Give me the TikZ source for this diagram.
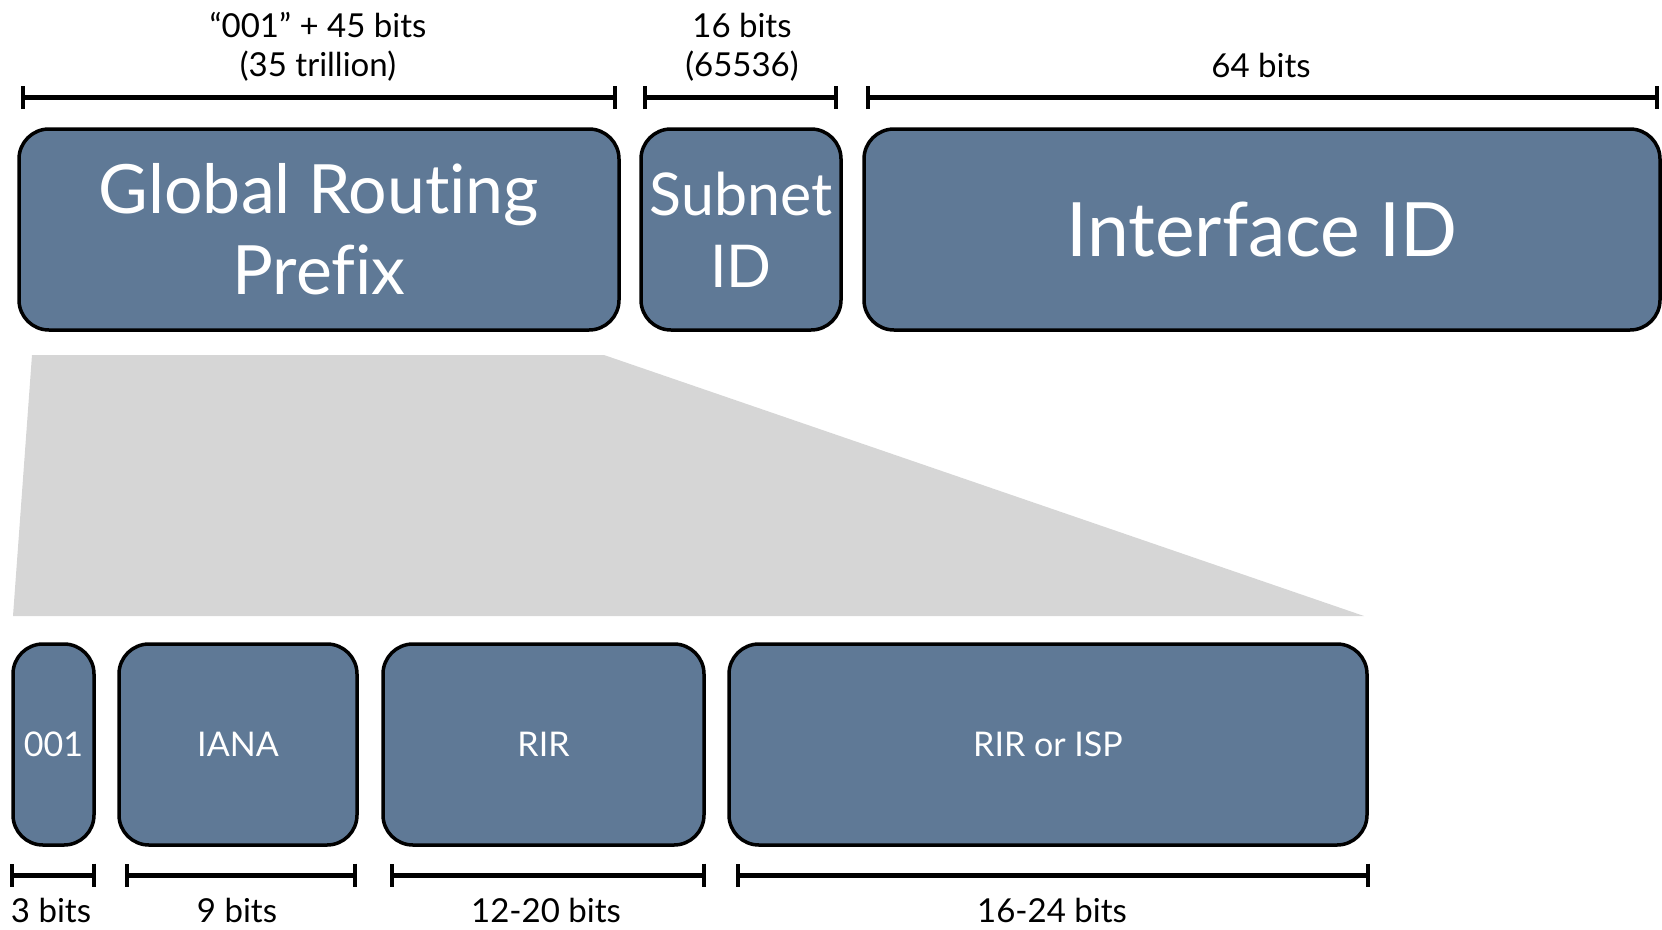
\documentclass[tikz,border=0pt]{standalone}
\usepackage{fontspec}
\setmainfont{Lato}[Ligatures=NoCommon]
\usetikzlibrary{arrows.meta}
\definecolor{boxblue}{RGB}{95,121,150}
\definecolor{fangrey}{RGB}{214,214,214}
\begin{document}
\begin{tikzpicture}[x=1pt,y=-1pt,
  field/.style={draw=black, line width=3.5pt, fill=boxblue, rounded corners=30pt,
    text=white, align=center, inner sep=0pt, minimum height=201pt},
  bigtext/.style={font=\fontsize{68}{81}\selectfont},
  smalltext/.style={font=\fontsize{34}{40}\selectfont},
  lbl/.style={font=\fontsize{33}{39}\selectfont, text=black, align=center, inner sep=0pt},
  span/.style={line width=5pt, {Bar[width=23pt,line width=4pt]}-{Bar[width=23pt,line width=4pt]}}
]
\useasboundingbox (0,0) rectangle (1662,929);
% fan
\fill[fangrey] (32,355) -- (604,355) -- (1364,616) -- (13,616) -- cycle;
% top fields
\node[field, bigtext, minimum width=600pt] (grp) at (319,229.5) {Global Routing\\Prefix};
\node[field, font=\fontsize{59}{72}\selectfont, minimum width=200pt] (sub) at (741,229.5) {Subnet\\ID};
\node[field, font=\fontsize{75}{81}\selectfont, minimum width=796pt] (iid) at (1262,229.5) {Interface ID};
% bottom fields
\node[field, smalltext, minimum width=81pt] (f001) at (53.5,744.5) {001};
\node[field, smalltext, minimum width=238pt] (iana) at (238,744.5) {IANA};
\node[field, smalltext, minimum width=321pt] (rir) at (543.5,744.5) {RIR};
\node[field, smalltext, minimum width=638pt] (isp) at (1048,744.5) {RIR or ISP};
% top spans
\coordinate (t1a) at (21,97.5);  \coordinate (t1b) at (617,97.5);
\coordinate (t2a) at (643,97.5); \coordinate (t2b) at (838,97.5);
\coordinate (t3a) at (866,97.5); \coordinate (t3b) at (1659,97.5);
\draw[span] (t1a) -- (t1b);
\draw[span] (t2a) -- (t2b);
\draw[span] (t3a) -- (t3b);
\node[lbl] (l1) at (318,47) {“001” + 45 bits\\(35 trillion)};
\node[lbl] (l2) at (742,47) {16 bits\\(65536)};
\node[lbl] (l3) at (1261,65) {64 bits};
% bottom spans
\coordinate (b1a) at (10,875);  \coordinate (b1b) at (96,875);
\coordinate (b2a) at (125,875); \coordinate (b2b) at (357,875);
\coordinate (b3a) at (390,875); \coordinate (b3b) at (706,875);
\coordinate (b4a) at (736,875); \coordinate (b4b) at (1370,875);
\draw[span] (b1a) -- (b1b);
\draw[span] (b2a) -- (b2b);
\draw[span] (b3a) -- (b3b);
\draw[span] (b4a) -- (b4b);
\node[lbl] (m1) at (51,910) {3 bits};
\node[lbl] (m2) at (237,910) {9 bits};
\node[lbl] (m3) at (546,910) {12-20 bits};
\node[lbl] (m4) at (1052,910) {16-24 bits};
\end{tikzpicture}
\end{document}
